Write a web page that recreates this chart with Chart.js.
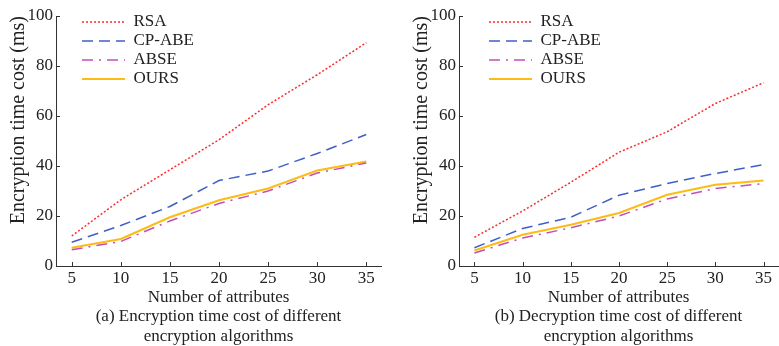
<!DOCTYPE html>
<html>
<head>
<meta charset="utf-8">
<script src="https://cdn.jsdelivr.net/npm/chart.js@4"></script>
<style>
  body { margin: 0; background: #fff; }
  .panel { position: absolute; top: 0; height: 346px; }
  #panelA { left: 0; width: 390px; }
  #panelB { left: 390px; width: 389px; }
</style>
</head>
<body>
<div class="panel" id="panelA"><canvas id="chartA" width="390" height="346"></canvas></div>
<div class="panel" id="panelB"><canvas id="chartB" width="389" height="346"></canvas></div>
<script>
// data
const attributes = [5, 10, 15, 20, 25, 30, 35];
const yTicks = [0, 20, 40, 60, 80, 100];
const seriesNames = ['RSA', 'CP-ABE', 'ABSE', 'OURS'];

// (a) encryption
const encRSA   = [12.0, 26.5, 38.5, 50.5, 64.5, 76.5, 89.3];
const encCPABE = [9.5, 16.2, 23.8, 34.2, 38.0, 45.0, 52.6];
const encABSE  = [6.5, 9.8, 18.0, 25.0, 30.0, 37.2, 41.2];
const encOURS  = [7.3, 10.8, 19.5, 26.3, 31.0, 38.2, 41.8];

// (b) decryption
const decRSA   = [11.5, 22.0, 33.5, 45.5, 53.7, 65.0, 73.3];
const decCPABE = [7.3, 15.0, 19.5, 28.3, 33.0, 37.0, 40.6];
const decABSE  = [5.2, 11.2, 15.3, 20.0, 26.8, 31.0, 33.0];
const decOURS  = [6.2, 12.5, 16.5, 21.2, 28.5, 32.5, 34.2];

const captionA = ['(a) Encryption time cost of different', 'encryption algorithms'];
const captionB = ['(b) Decryption time cost of different', 'encryption algorithms'];

const fontFamily = '"Liberation Serif", "Times New Roman", serif';
const textColor = '#222';
const axisColor = '#333';

const styles = [
  { color: '#ff2a2a', dash: [2, 2], width: 1.5 },
  { color: '#3f5fc6', dash: [11, 6], width: 1.5 },
  { color: '#c24fb6', dash: [11, 6, 2, 6], width: 1.5 },
  { color: '#fcbc14', dash: [], width: 2 }
];

function makeDatasets(lists) {
  return lists.map((vals, i) => ({
    label: seriesNames[i],
    data: attributes.map((x, j) => ({ x: x, y: vals[j] })),
    borderColor: styles[i].color,
    backgroundColor: styles[i].color,
    borderDash: styles[i].dash,
    borderWidth: styles[i].width,
    pointRadius: 0,
    tension: 0,
    fill: false
  }));
}

// inward tick marks like the original plot
const tickMarks = {
  id: 'tickMarks',
  afterDraw(chart) {
    const { ctx, scales: { x, y } } = chart;
    ctx.save();
    ctx.strokeStyle = axisColor;
    ctx.lineWidth = 1;
    x.ticks.forEach(t => {
      const px = Math.round(x.getPixelForValue(t.value)) + 0.5;
      ctx.beginPath(); ctx.moveTo(px, y.bottom); ctx.lineTo(px, y.bottom - 4); ctx.stroke();
    });
    y.ticks.forEach(t => {
      const py = Math.round(y.getPixelForValue(t.value)) + 0.5;
      ctx.beginPath(); ctx.moveTo(x.left, py); ctx.lineTo(x.left + 4, py); ctx.stroke();
    });
    ctx.restore();
  }
};

// nudge the in-plot legend to where the original has it
const legendShift = {
  id: 'legendShift',
  afterLayout(chart, args, opts) {
    const lg = chart.legend;
    if (!lg) return;
    lg.left += opts.dx; lg.right += opts.dx;
    lg.top += opts.dy; lg.bottom += opts.dy;
  }
};

// legend samples keep the dataset dash pattern
function legendLabels(chart) {
  const items = Chart.defaults.plugins.legend.labels.generateLabels(chart);
  items.forEach(item => {
    const ds = chart.data.datasets[item.datasetIndex];
    item.lineDash = ds.borderDash;
    item.lineWidth = ds.borderWidth;
    item.strokeStyle = ds.borderColor;
  });
  return items;
}

function makeChart(id, lists, caption, padLeft, padRight, legendDx) {
  return new Chart(document.getElementById(id), {
    type: 'line',
    data: { datasets: makeDatasets(lists) },
    plugins: [tickMarks, legendShift],
    options: {
      responsive: false,
      animation: false,
      layout: { padding: { left: padLeft, right: padRight, top: 16, bottom: 0 } },
      scales: {
        x: {
          type: 'linear',
          min: 3.4,
          max: 36.5,
          afterBuildTicks: s => { s.ticks = attributes.map(v => ({ value: v })); },
          afterFit: s => { s.height = 40; },
          grid: { display: true, drawOnChartArea: false, drawTicks: false },
          border: { display: true, color: axisColor, width: 1 },
          ticks: { padding: 2, color: textColor, font: { family: fontFamily, size: 17 } },
          title: {
            display: true,
            text: 'Number of attributes',
            color: textColor,
            padding: { top: 0, bottom: 0 },
            font: { family: fontFamily, size: 17, lineHeight: 1 }
          }
        },
        y: {
          min: 0,
          max: 100,
          afterBuildTicks: s => { s.ticks = yTicks.map(v => ({ value: v })); },
          afterFit: s => { s.width = 56; },
          grid: { display: true, drawOnChartArea: false, drawTicks: false },
          border: { display: true, color: axisColor, width: 1 },
          ticks: { padding: 3, color: textColor, font: { family: fontFamily, size: 17 } },
          title: {
            display: true,
            text: 'Encryption time cost (ms)',
            align: 'end',
            color: textColor,
            padding: { top: 9, bottom: 0 },
            font: { family: fontFamily, size: 20, lineHeight: 1 }
          }
        }
      },
      plugins: {
        legend: {
          position: 'chartArea',
          align: 'start',
          labels: {
            usePointStyle: true,
            pointStyle: 'line',
            pointStyleWidth: 43,
            padding: 2,
            color: textColor,
            font: { family: fontFamily, size: 17 },
            generateLabels: legendLabels
          }
        },
        legendShift: { dx: legendDx, dy: 11.5 },
        title: {
          display: true,
          position: 'bottom',
          fullSize: false,
          text: caption,
          color: textColor,
          padding: { top: 1, bottom: 0 },
          font: { family: fontFamily, size: 17, weight: 'normal', lineHeight: 1.147 }
        },
        tooltip: { enabled: false }
      }
    }
  });
}

makeChart('chartA', [encRSA, encCPABE, encABSE, encOURS], captionA, 0, 9, 24);
makeChart('chartB', [decRSA, decCPABE, decABSE, decOURS], captionB, 13, 1, 28);
</script>
</body>
</html>
